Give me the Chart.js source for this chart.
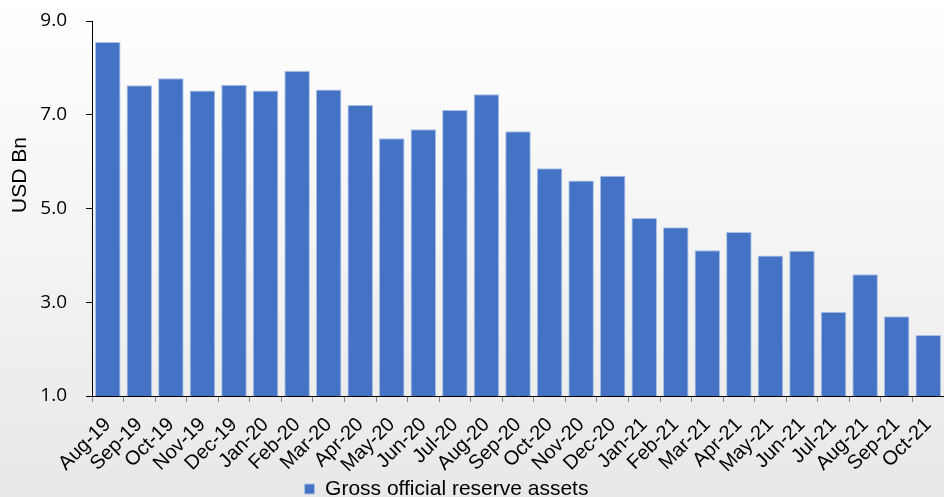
<!DOCTYPE html>
<html>
<head>
<meta charset="utf-8">
<script src="https://cdn.jsdelivr.net/npm/chart.js@4/dist/chart.umd.min.js"></script>
<style>
html,body{margin:0;padding:0;background:#fff;}
#wrap{width:944px;height:497px;}
</style>
</head>
<body>
<div id="wrap"><canvas id="c" width="944" height="497"></canvas></div>
<script>
const categories = ["Aug-19","Sep-19","Oct-19","Nov-19","Dec-19","Jan-20","Feb-20","Mar-20","Apr-20","May-20","Jun-20","Jul-20","Aug-20","Sep-20","Oct-20","Nov-20","Dec-20","Jan-21","Feb-21","Mar-21","Apr-21","May-21","Jun-21","Jul-21","Aug-21","Sep-21","Oct-21"];
const reserveAssets = [8.55,7.63,7.78,7.52,7.64,7.52,7.94,7.54,7.21,6.50,6.69,7.10,7.44,6.65,5.86,5.60,5.70,4.80,4.60,4.11,4.50,4.00,4.10,2.80,3.60,2.70,2.30];
const seriesName = "Gross official reserve assets";
const yTitle = "USD Bn";
const yMin = 1, yMax = 9, yStep = 2;

const bgPlugin = {
  id: 'bg',
  beforeDraw(chart) {
    const {ctx, width, height} = chart;
    const g = ctx.createLinearGradient(0, 0, 0, height);
    g.addColorStop(0, '#ffffff');
    g.addColorStop(1, '#e8e8e8');
    ctx.save();
    ctx.fillStyle = g;
    ctx.fillRect(0, 0, width, height);
    ctx.restore();
  }
};

const legendShift = {
  id: 'legendShift',
  afterLayout(chart) {
    const lg = chart.legend;
    if (lg) {
      lg.left -= 51;
      lg.top -= 17.5;
      lg.bottom -= 17.5;
    }
  }
};

const yTitlePlugin = {
  id: 'yTitle',
  afterDraw(chart) {
    const ctx = chart.ctx;
    ctx.save();
    ctx.translate(20, 175);
    ctx.rotate(-Math.PI / 2);
    ctx.font = '21px "Liberation Sans", Arial, sans-serif';
    ctx.fillStyle = '#000';
    ctx.textAlign = 'center';
    ctx.textBaseline = 'middle';
    ctx.fillText(yTitle, 0, 0);
    ctx.restore();
  }
};

new Chart(document.getElementById('c'), {
  type: 'bar',
  data: {
    labels: categories,
    datasets: [{
      label: seriesName,
      data: reserveAssets,
      backgroundColor: '#4472C4',
      borderColor: 'rgba(170,192,228,1)',
      borderWidth: 1,
      categoryPercentage: 0.81,
      barPercentage: 1
    }]
  },
  options: {
    responsive: false,
    animation: false,
    devicePixelRatio: 1,
    layout: { padding: { top: 21, left: 0, right: 0, bottom: -30 } },
    plugins: {
      legend: {
        position: 'bottom',
        labels: {
          boxWidth: 10,
          boxHeight: 10,
          padding: 10,
          color: '#000',
          font: { family: '"Liberation Sans", Arial, sans-serif', size: 21 }
        }
      },
      tooltip: { enabled: false }
    },
    scales: {
      x: {
        grid: { display: true, drawOnChartArea: false, drawTicks: true, tickLength: 6, color: '#888', offset: true },
        border: { display: true, color: '#000', width: 1 },
        ticks: {
          autoSkip: false, maxRotation: 45, minRotation: 45, padding: 11,
          color: '#000',
          font: { family: '"Liberation Sans", Arial, sans-serif', size: 20 }
        },
        afterFit(s) { s.height = 90; s.paddingLeft = 0; s.paddingRight = 0; }
      },
      y: {
        min: yMin, max: yMax,
        grid: { display: true, drawOnChartArea: false, drawTicks: true, tickLength: 6, color: '#000' },
        border: { display: true, color: '#000', width: 1 },
        ticks: {
          stepSize: yStep, padding: 19, color: '#000',
          font: { family: '"Open Sans", sans-serif', size: 19 },
          callback: v => Number(v).toFixed(1)
        },
        afterFit(s) { s.width = 92; s.paddingTop = 0; s.paddingBottom = 0; }
      }
    }
  },
  plugins: [bgPlugin, legendShift, yTitlePlugin]
});
</script>
</body>
</html>
